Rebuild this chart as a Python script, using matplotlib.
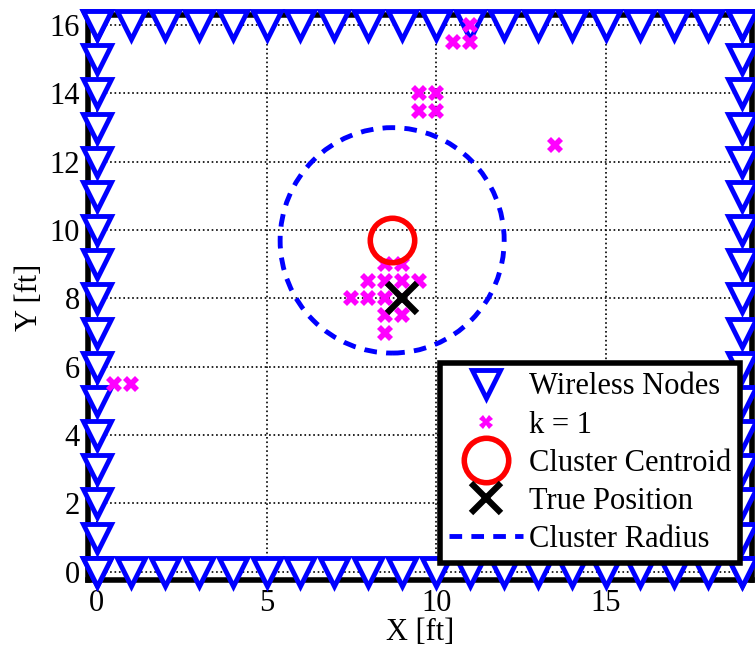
import numpy as np
import matplotlib
matplotlib.use("Agg")
import matplotlib.pyplot as plt
from matplotlib.patches import Circle
from matplotlib.lines import Line2D

plt.rcParams['font.family'] = ['Liberation Serif', 'DejaVu Serif']

# Wireless nodes around the perimeter
node_x_top = list(range(0, 20))
node_y_left = list(range(0, 17))
x_max, y_max = 19, 16

# k = 1 estimates
est_x = [8.5, 9.0, 8.0, 8.5, 9.0, 9.5, 7.5, 8.0, 8.5, 9.0, 8.5, 9.0, 8.5,
         9.5, 10.0, 9.5, 10.0, 11.0, 10.5, 11.0, 13.5, 0.5, 1.0]
est_y = [9.0, 9.0, 8.5, 8.5, 8.5, 8.5, 8.0, 8.0, 8.0, 8.0, 7.5, 7.5, 7.0,
         14.0, 14.0, 13.5, 13.5, 16.0, 15.5, 15.5, 12.5, 5.5, 5.5]

centroid = (8.7, 9.7)
true_pos = (9.0, 8.0)
cluster_radius = 3.3

xticks = [0, 5, 10, 15]
yticks = list(range(0, 17, 2))

# build node coordinate lists
nx = node_x_top + node_x_top + [0] * len(node_y_left) + [x_max] * len(node_y_left)
ny = [y_max] * len(node_x_top) + [0] * len(node_x_top) + node_y_left + node_y_left

fig = plt.figure(figsize=(7.55, 6.49), dpi=100)
ax = fig.add_axes([0.117, 0.106, 0.879, 0.871])

ax.plot(nx, ny, linestyle='none', marker='v', markersize=20, markerfacecolor='white',
        markeredgecolor='#0000ff', markeredgewidth=3.5, clip_on=False, zorder=3,
        label='Wireless Nodes')
ax.plot(est_x, est_y, linestyle='none', marker='X', markersize=12, color='#ff00ff',
        markeredgewidth=0, clip_on=False, zorder=4, label='k = 1')
ax.plot([centroid[0]], [centroid[1]], linestyle='none', marker='o', markersize=32,
        markerfacecolor='none', markeredgecolor='#ff0000', markeredgewidth=4,
        zorder=5, label='Cluster Centroid')
ax.plot([true_pos[0]], [true_pos[1]], linestyle='none', marker='x', markersize=21,
        color='black', markeredgewidth=4.5, zorder=6, label='True Position')
circ = Circle(centroid, cluster_radius, fill=False, edgecolor='#0000ff', linewidth=3.5,
              linestyle=(0, (2.6, 1.9)), zorder=5)
ax.add_patch(circ)
radius_handle = Line2D([], [], color='#0000ff', linewidth=3.5, linestyle=(0, (2.6, 1.9)),
                       label='Cluster Radius')

ax.set_xlim(-0.25, 19.3)
ax.set_ylim(-0.25, 16.3)
ax.set_xticks(xticks)
ax.set_yticks(yticks)
ax.tick_params(direction='in', labelsize=22, length=6, width=1, pad=6)
ax.grid(True, linestyle=':', color='black', linewidth=1.2)
ax.set_axisbelow(True)
for s in ax.spines.values():
    s.set_linewidth(4)
ax.set_xlabel('X [ft]', fontsize=22, labelpad=0)
ax.set_ylabel('Y [ft]', fontsize=22, labelpad=4)

handles, labels = ax.get_legend_handles_labels()
handles.append(radius_handle)
leg = ax.legend(handles=handles, loc='lower right', bbox_to_anchor=(0.982, 0.03),
                borderaxespad=0, fontsize=22, handlelength=2.4, handletextpad=0.2,
                labelspacing=0.3, borderpad=0.3, fancybox=False, framealpha=1,
                edgecolor='black')
leg.get_frame().set_linewidth(4)
leg.set_zorder(10)
leg.legend_handles[1].set_markersize(10)

fig.savefig('out.png', dpi=100)
